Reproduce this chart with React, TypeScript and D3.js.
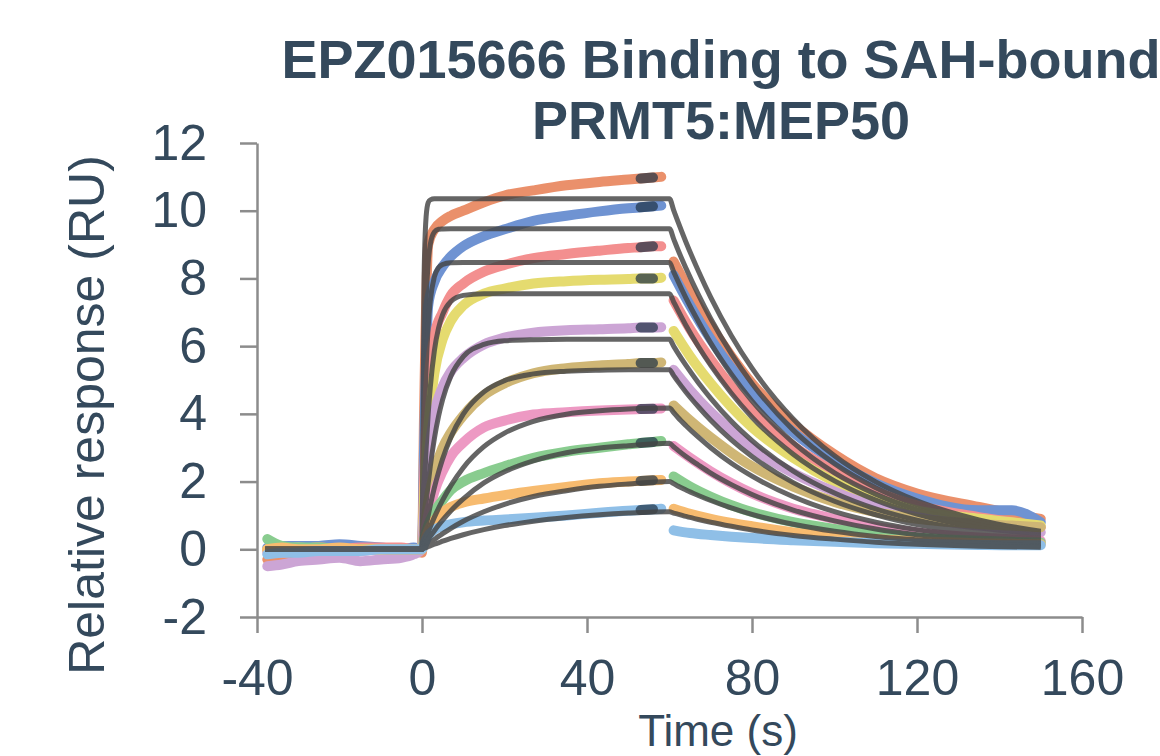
import React, { useRef, useEffect } from 'react';
import * as d3 from 'd3';

// sensorgram sampling times (s)
const baseTimes = [-37.5, -34, -30, -25, -20, -15, -10, -5, -2, 0];
const assocTimes = [0.5, 1.5, 3, 5, 7, 10, 15, 20, 27, 35, 43, 50, 53, 56, 58];
const dissocTimes = [61, 65, 70, 75, 80, 90, 100, 110, 120, 135, 143, 150];
const fitTimes = [-38, 0, 0.5, 1, 1.5, 2, 3, 4, 5, 7, 10, 15, 20, 27, 35, 43, 50, 60,
  61, 62, 64, 67, 70, 75, 80, 90, 100, 110, 120, 135, 150];

const seriesColors = ['#E46C3A', '#3F6FC4', '#F06A6A', '#DDD040', '#BC88C8',
  '#BF9E48', '#E878B0', '#62BC6A', '#F5A540', '#6AAAE0'];

const baseValues = [
  [-0.3, -0.2, -0.15, -0.05, 0.05, 0, 0, 0, -0.05, -0.1],
  [0.05, 0.1, 0.1, 0.1, 0.15, 0.1, 0.05, 0, 0.05, 0],
  [0, -0.05, 0, 0.05, 0, 0.05, 0.05, 0.05, 0, 0],
  [0, 0, 0.05, 0, 0, 0, 0, 0, 0, 0],
  [-0.5, -0.45, -0.35, -0.3, -0.25, -0.35, -0.3, -0.25, -0.15, 0],
  [-0.05, 0, 0, 0.05, 0, 0, 0, 0, 0, 0],
  [-0.1, -0.1, -0.05, 0, 0, -0.05, 0, 0, 0, 0],
  [0.3, 0.1, 0.05, 0.05, 0, 0, 0, 0, 0, 0],
  [0, 0.05, 0, 0, 0.05, 0, 0, 0, 0, 0],
  [-0.15, -0.1, -0.1, -0.05, -0.05, -0.05, 0, 0, 0, 0],
];

const assocValues = [
  [4.0, 9.0, 9.45, 9.7, 9.85, 10.0, 10.25, 10.45, 10.6, 10.75, 10.85, 10.92, 10.95, 10.98, 11.0],
  [3.0, 7.2, 7.9, 8.35, 8.65, 8.95, 9.25, 9.45, 9.7, 9.85, 9.98, 10.07, 10.1, 10.13, 10.15],
  [2.0, 4.8, 6.3, 7.0, 7.5, 7.85, 8.2, 8.4, 8.6, 8.72, 8.82, 8.9, 8.92, 8.95, 8.95],
  [1.5, 3.6, 5.2, 6.2, 6.75, 7.2, 7.55, 7.7, 7.85, 7.92, 7.96, 7.98, 8.0, 8.0, 8.02],
  [1.0, 2.6, 4.0, 4.8, 5.25, 5.65, 6.05, 6.25, 6.4, 6.47, 6.5, 6.53, 6.55, 6.55, 6.56],
  [0.5, 1.4, 2.3, 3.0, 3.45, 3.95, 4.55, 4.9, 5.2, 5.35, 5.43, 5.47, 5.5, 5.5, 5.52],
  [0.4, 1.0, 1.7, 2.3, 2.75, 3.15, 3.6, 3.8, 3.98, 4.05, 4.1, 4.13, 4.14, 4.15, 4.16],
  [0.3, 0.7, 1.1, 1.45, 1.75, 2.0, 2.25, 2.45, 2.7, 2.88, 3.0, 3.1, 3.14, 3.17, 3.2],
  [0.2, 0.55, 0.85, 1.1, 1.25, 1.38, 1.5, 1.6, 1.72, 1.84, 1.95, 2.0, 2.02, 2.04, 2.05],
  [0.15, 0.4, 0.58, 0.68, 0.74, 0.8, 0.85, 0.88, 0.93, 1.0, 1.08, 1.14, 1.16, 1.18, 1.2],
];

const dissocValues = [
  [8.5, 7.6, 6.6, 5.7, 4.9, 3.7, 2.8, 2.1, 1.65, 1.25, 1.05, 0.9],
  [8.1, 7.2, 6.2, 5.35, 4.6, 3.45, 2.6, 1.95, 1.5, 1.15, 1.15, 0.8],
  [7.35, 6.5, 5.6, 4.8, 4.1, 3.05, 2.3, 1.7, 1.3, 0.95, 0.8, 0.65],
  [6.45, 5.7, 4.9, 4.2, 3.6, 2.7, 2.0, 1.5, 1.15, 0.9, 0.8, 0.7],
  [5.3, 4.7, 4.05, 3.5, 3.0, 2.25, 1.7, 1.25, 0.95, 0.7, 0.6, 0.5],
  [4.25, 3.8, 3.3, 2.85, 2.45, 1.85, 1.4, 1.1, 0.9, 0.75, 0.7, 0.65],
  [3.05, 2.7, 2.3, 1.95, 1.65, 1.2, 0.9, 0.65, 0.5, 0.35, 0.3, 0.25],
  [2.15, 1.85, 1.55, 1.3, 1.1, 0.8, 0.6, 0.45, 0.35, 0.25, 0.22, 0.2],
  [1.2, 1.05, 0.9, 0.78, 0.68, 0.5, 0.38, 0.3, 0.24, 0.18, 0.16, 0.15],
  [0.56, 0.48, 0.42, 0.37, 0.33, 0.27, 0.22, 0.18, 0.16, 0.13, 0.12, 0.12],
];

// fitted 1:1 binding curves
const fitValues = [
  [0, 0, 8.04, 9.83, 10.24, 10.32, 10.35, 10.35, 10.35, 10.35, 10.35, 10.35, 10.35, 10.35, 10.35, 10.35, 10.35, 10.35,
    10.02, 9.69, 9.07, 8.22, 7.44, 6.31, 5.35, 3.85, 2.76, 1.99, 1.43, 0.87, 0.53],
  [0, 0, 5.0, 7.36, 8.47, 9.0, 9.37, 9.45, 9.46, 9.47, 9.47, 9.47, 9.47, 9.47, 9.47, 9.47, 9.47, 9.47,
    9.17, 8.86, 8.3, 7.52, 6.81, 5.78, 4.9, 3.52, 2.53, 1.82, 1.31, 0.8, 0.48],
  [0, 0, 3.33, 5.35, 6.58, 7.33, 8.05, 8.32, 8.41, 8.46, 8.47, 8.47, 8.47, 8.47, 8.47, 8.47, 8.47, 8.47,
    8.2, 7.93, 7.42, 6.73, 6.09, 5.17, 4.38, 3.15, 2.26, 1.63, 1.17, 0.71, 0.43],
  [0, 0, 1.67, 2.97, 3.99, 4.77, 5.87, 6.53, 6.93, 7.32, 7.5, 7.55, 7.55, 7.55, 7.55, 7.55, 7.55, 7.55,
    7.31, 7.07, 6.61, 5.99, 5.43, 4.61, 3.9, 2.81, 2.02, 1.45, 1.04, 0.63, 0.39],
  [0, 0, 0.73, 1.37, 1.94, 2.44, 3.27, 3.92, 4.42, 5.12, 5.69, 6.05, 6.16, 6.19, 6.2, 6.2, 6.2, 6.2,
    6.0, 5.8, 5.43, 4.92, 4.46, 3.78, 3.21, 2.31, 1.66, 1.19, 0.86, 0.52, 0.32],
  [0, 0, 0.36, 0.69, 1.0, 1.29, 1.82, 2.27, 2.67, 3.31, 3.99, 4.65, 4.98, 5.18, 5.26, 5.29, 5.3, 5.3,
    5.13, 4.96, 4.64, 4.21, 3.81, 3.23, 2.74, 1.97, 1.42, 1.02, 0.73, 0.45, 0.27],
  [0, 0, 0.18, 0.34, 0.5, 0.66, 0.95, 1.21, 1.45, 1.88, 2.41, 3.03, 3.43, 3.78, 3.99, 4.09, 4.14, 4.17,
    4.04, 3.9, 3.65, 3.31, 3.0, 2.54, 2.16, 1.55, 1.11, 0.8, 0.58, 0.35, 0.21],
  [0, 0, 0.1, 0.2, 0.29, 0.38, 0.55, 0.71, 0.86, 1.14, 1.49, 1.96, 2.29, 2.61, 2.85, 2.99, 3.06, 3.13,
    3.03, 2.93, 2.74, 2.49, 2.25, 1.91, 1.62, 1.16, 0.84, 0.6, 0.43, 0.26, 0.16],
  [0, 0, 0.05, 0.1, 0.15, 0.2, 0.29, 0.38, 0.46, 0.62, 0.83, 1.11, 1.33, 1.56, 1.73, 1.86, 1.93, 2.0,
    1.94, 1.87, 1.75, 1.59, 1.44, 1.22, 1.03, 0.74, 0.53, 0.38, 0.28, 0.17, 0.1],
  [0, 0, 0.03, 0.05, 0.08, 0.1, 0.15, 0.19, 0.24, 0.32, 0.43, 0.58, 0.7, 0.83, 0.94, 1.02, 1.07, 1.11,
    1.07, 1.04, 0.97, 0.88, 0.8, 0.68, 0.57, 0.41, 0.3, 0.21, 0.15, 0.09, 0.06],
];

const xTicks = [-40, 0, 40, 80, 120, 160];
const yTicks = [-2, 0, 2, 4, 6, 8, 10, 12];

const textColor = '#34495C';
const axisColor = '#8C8C8C';
const font = '"Liberation Sans", Arial, sans-serif';

const App = () => {
  const xAxisRef = useRef<SVGGElement>(null);
  const yAxisRef = useRef<SVGGElement>(null);

  const x = d3.scaleLinear().domain([-40, 160]).range([257, 1082]);
  const y = d3.scaleLinear().domain([-2, 12]).range([617, 143]);

  const line = d3.line<[number, number]>()
    .x(d => x(d[0]))
    .y(d => y(d[1]))
    .curve(d3.curveMonotoneX);

  useEffect(() => {
    // plain hyphen for negatives, like the original
    const fmt = (d: any) => String(d);
    const xa = d3.select(xAxisRef.current);
    xa.call(d3.axisBottom(x).tickValues(xTicks).tickSize(16).tickSizeOuter(0).tickPadding(26).tickFormat(fmt) as any);
    const ya = d3.select(yAxisRef.current);
    ya.call(d3.axisLeft(y).tickValues(yTicks).tickSize(17).tickSizeOuter(0).tickPadding(33).tickFormat(fmt) as any);
    [xa, ya].forEach(g => {
      g.selectAll('path, line').attr('stroke', axisColor).attr('stroke-width', 2.5);
      g.selectAll('text')
        .attr('fill', textColor)
        .style('font-family', font)
        .style('font-size', '50px');
    });
  // eslint-disable-next-line
  }, []);

  return (
    <svg width={1160} height={756} style={{ position: 'absolute', left: 0, top: 0, background: '#fff' }}>
      <text x={721} y={78} textAnchor="middle" fill={textColor}
        style={{ fontFamily: font, fontWeight: 'bold', fontSize: '54px' }}>
        EPZ015666 Binding to SAH-bound
      </text>
      <text x={721} y={139} textAnchor="middle" fill={textColor}
        style={{ fontFamily: font, fontWeight: 'bold', fontSize: '54px' }}>
        PRMT5:MEP50
      </text>

      <g ref={yAxisRef} transform="translate(257,0)" />
      <g ref={xAxisRef} transform="translate(0,617)" />

      <text transform="translate(104,415) rotate(-90)" textAnchor="middle" fill={textColor}
        style={{ fontFamily: font, fontSize: '50px' }}>
        Relative response (RU)
      </text>
      <text x={718} y={746} textAnchor="middle" fill={textColor}
        style={{ fontFamily: font, fontSize: '44px' }}>
        Time (s)
      </text>

      {/* measured responses */}
      <g fill="none" strokeLinecap="round" strokeLinejoin="round" strokeWidth={10} opacity={0.75}>
        {seriesColors.map((c, i) => {
          const assocPts = baseTimes.map((t, j) => [t, baseValues[i][j]] as [number, number])
            .concat(assocTimes.map((t, j) => [t, assocValues[i][j]] as [number, number]));
          const dissocPts = dissocTimes.map((t, j) => [t, dissocValues[i][j]] as [number, number]);
          return (
            <g key={'d' + i} stroke={c}>
              <path d={line(assocPts) || ''} />
              <path d={line(dissocPts) || ''} />
            </g>
          );
        })}
      </g>

      {/* report-point markers */}
      <g fill="none" stroke="#1F3346" strokeLinecap="round" strokeWidth={10} opacity={0.7}>
        {assocValues.map((vals, i) => {
          const pts = [12, 13].map(j => [assocTimes[j], vals[j]] as [number, number]);
          return <path key={'m' + i} d={line(pts) || ''} />;
        })}
      </g>

      {/* fits */}
      <g fill="none" stroke="#444" strokeWidth={5} strokeLinejoin="round" opacity={0.82}>
        {fitValues.map((vals, i) => (
          <path key={'f' + i} d={line(fitTimes.map((t, j) => [t, vals[j]] as [number, number])) || ''} />
        ))}
      </g>
    </svg>
  );
};

export default App;
